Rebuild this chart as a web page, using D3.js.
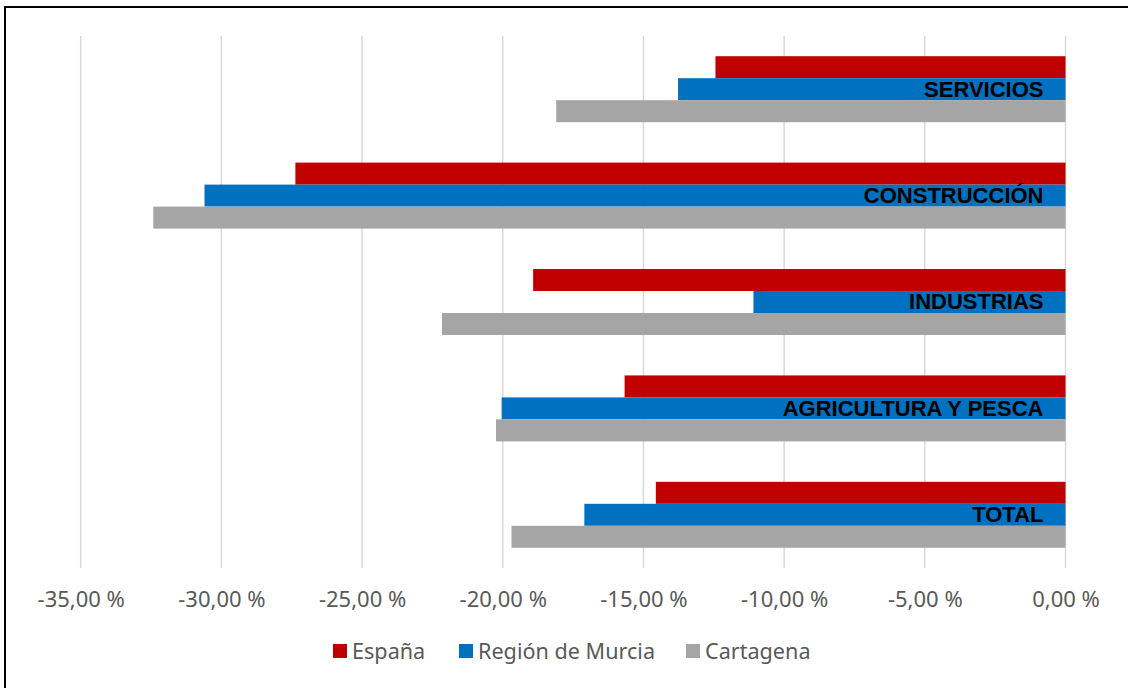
<!DOCTYPE html>
<html>
<head>
<meta charset="utf-8">
<script src="https://cdn.jsdelivr.net/npm/d3@7"></script>
<style>
  html, body { margin: 0; padding: 0; background: #fff; }
  svg { display: block; }
</style>
</head>
<body>
<div id="chart"></div>
<script>
// Sectors, top to bottom
var categories = ["SERVICIOS", "CONSTRUCCIÓN", "INDUSTRIAS", "AGRICULTURA Y PESCA", "TOTAL"];
var seriesNames = ["España", "Región de Murcia", "Cartagena"];
var seriesColors = ["#C00000", "#0070C0", "#A5A5A5"];

// Variation (%) per sector
var espana    = [-12.44, -27.37, -18.92, -15.67, -14.56];
var murcia    = [-13.77, -30.60, -11.09, -20.04, -17.10];
var cartagena = [-18.10, -32.42, -22.16, -20.24, -19.69];

var tickValues = [-35, -30, -25, -20, -15, -10, -5, 0];

var width = 1128, height = 688;
var seriesValues = [espana, murcia, cartagena];

var svg = d3.select("#chart").append("svg")
  .attr("width", width)
  .attr("height", height);

// Outer frame (runs off the right and bottom edges)
svg.append("rect")
  .attr("x", 5).attr("y", 7)
  .attr("width", width + 10).attr("height", height + 10)
  .attr("fill", "#fff")
  .attr("stroke", "#000")
  .attr("stroke-width", 2);

var x = d3.scaleLinear()
  .domain([-35, 0])
  .range([80.7, 1065.5]);

var y = d3.scaleBand()
  .domain(categories)
  .range([36, 568])
  .paddingInner(0.38)
  .paddingOuter(0.19);

var ySub = d3.scaleBand()
  .domain(seriesNames)
  .range([0, y.bandwidth()]);

// Gridlines
svg.append("g").selectAll("line")
  .data(tickValues)
  .enter().append("line")
    .attr("x1", function(d) { return x(d); })
    .attr("x2", function(d) { return x(d); })
    .attr("y1", 36)
    .attr("y2", 568)
    .attr("stroke", "#D9D9D9")
    .attr("stroke-width", 1.5);

// Bars
var rows = [];
categories.forEach(function(c, i) {
  seriesNames.forEach(function(s, j) {
    rows.push({ cat: c, series: s, value: seriesValues[j][i], color: seriesColors[j] });
  });
});

svg.append("g").selectAll("rect")
  .data(rows)
  .enter().append("rect")
    .attr("x", function(d) { return x(d.value); })
    .attr("y", function(d) { return y(d.cat) + ySub(d.series); })
    .attr("width", function(d) { return x(0) - x(d.value); })
    .attr("height", ySub.bandwidth())
    .attr("fill", function(d) { return d.color; });

// Category labels, inside the middle bar
svg.append("g").selectAll("text")
  .data(categories)
  .enter().append("text")
    .attr("x", x(0) - 22)
    .attr("y", function(d) { return y(d) + ySub("Región de Murcia") + ySub.bandwidth() / 2 - 0.5; })
    .attr("dy", "0.36em")
    .attr("text-anchor", "end")
    .attr("font-family", "'Liberation Sans', Arial, sans-serif")
    .attr("font-weight", "bold")
    .attr("font-size", 22)
    .attr("fill", "#000")
    .text(function(d) { return d; });

// X axis tick labels
var fmt = function(d) { return d3.format(".2f")(d).replace(".", ",").replace("−", "-") + " %"; };
var axis = d3.axisBottom(x)
  .tickValues(tickValues)
  .tickSize(0)
  .tickFormat(fmt);

var ax = svg.append("g")
  .attr("transform", "translate(0,588)")
  .call(axis);
ax.select(".domain").remove();
ax.selectAll("text")
  .attr("font-family", "'Noto Sans', sans-serif")
  .attr("font-size", 22)
  .attr("fill", "#595959");

// Legend
var legendX = [333, 459, 686];
var legend = svg.append("g").selectAll("g")
  .data(seriesNames)
  .enter().append("g")
    .attr("transform", function(d, i) { return "translate(" + legendX[i] + ",651)"; });

legend.append("rect")
  .attr("x", 0).attr("y", -7)
  .attr("width", 14).attr("height", 14)
  .attr("fill", function(d, i) { return seriesColors[i]; });

legend.append("text")
  .attr("x", 19)
  .attr("dy", "0.35em")
  .attr("font-family", "'Noto Sans', sans-serif")
  .attr("font-size", 21.6)
  .attr("fill", "#595959")
  .text(function(d) { return d; });
</script>
</body>
</html>
